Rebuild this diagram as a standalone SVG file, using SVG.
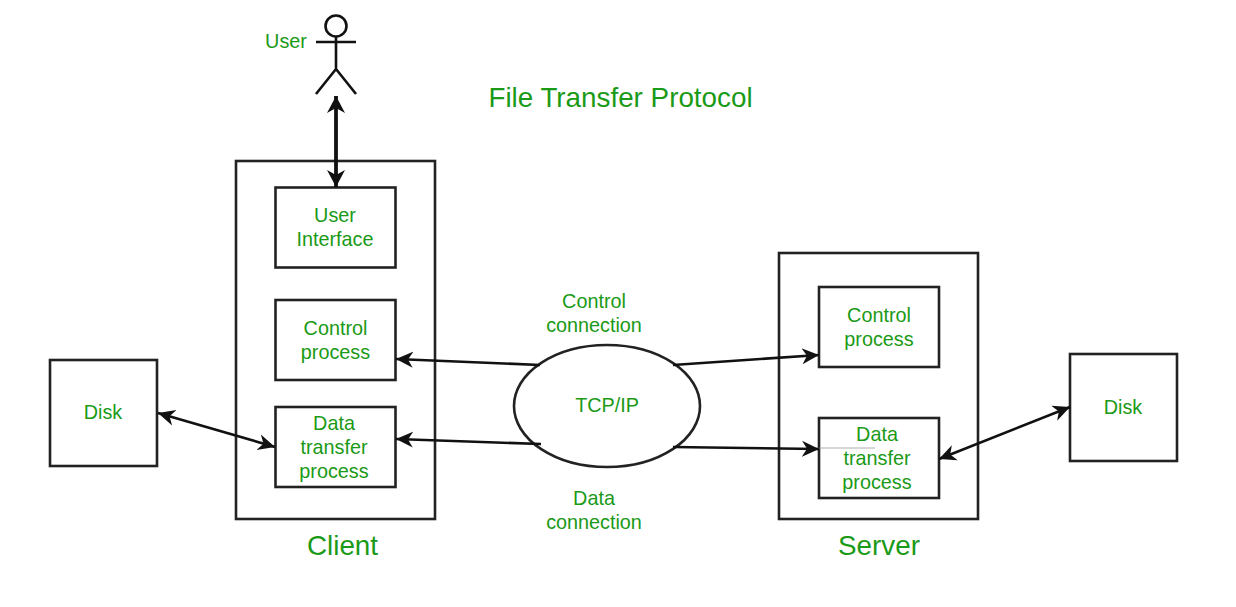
<svg xmlns="http://www.w3.org/2000/svg" width="1236" height="607" viewBox="0 0 1236 607">
<style>
text{font-family:"Liberation Sans",Arial,sans-serif;fill:#1a9a16;text-anchor:middle;font-size:19.8px}
.big{font-size:27.8px}
.box{fill:none;stroke:#222;stroke-width:2.6}
.c{fill:none;stroke:#111;stroke-width:2.6;marker-start:url(#as);marker-end:url(#ae)}
.o{fill:none;stroke:#111;stroke-width:2.6;marker-end:url(#ae)}
.a{fill:none;stroke:#111;stroke-width:2.6}
</style>
<defs>
<marker id="ae" markerUnits="userSpaceOnUse" markerWidth="20" markerHeight="18" refX="17" refY="9" orient="auto"><path d="M0 1 L17 9 L0 17 L5 9Z" fill="#111"/></marker>
<marker id="as" markerUnits="userSpaceOnUse" markerWidth="20" markerHeight="18" refX="3" refY="9" orient="auto"><path d="M20 1 L3 9 L20 17 L15 9Z" fill="#111"/></marker>
<marker id="be" markerUnits="userSpaceOnUse" markerWidth="20" markerHeight="20" refX="17" refY="10" orient="auto"><path d="M0 1 L17 10 L0 19 L5 10Z" fill="#111"/></marker>
<marker id="bs" markerUnits="userSpaceOnUse" markerWidth="20" markerHeight="20" refX="3" refY="10" orient="auto"><path d="M20 1 L3 10 L20 19 L15 10Z" fill="#111"/></marker>
</defs>
<rect width="1236" height="607" fill="#fff"/>
<text x="620.500" y="107" class="big">File Transfer Protocol</text>
<g id="user">
<circle cx="336" cy="26" r="10.500" class="a"/>
<path d="M336 37V69M316 42H356M336 69L316 94M336 69L356 94" class="a"/>
<text x="286" y="48">User</text>
</g>
<g id="client"><rect x="236" y="161" width="199" height="358" class="box"/><text x="342.500" y="555" class="big">Client</text></g>
<g id="user-interface"><rect x="275.500" y="187.500" width="120" height="80" class="box"/><text x="335" y="222">User</text><text x="335" y="246">Interface</text></g>
<g id="client-control"><rect x="275.500" y="300" width="120" height="80" class="box"/><text x="335.500" y="335">Control</text><text x="335.500" y="359">process</text></g>
<g id="client-data"><rect x="275.500" y="407" width="120" height="80" class="box"/><text x="334" y="430">Data</text><text x="334" y="454">transfer</text><text x="334" y="478">process</text></g>
<g id="client-disk"><rect x="50" y="360" width="107" height="106" class="box"/><text x="103" y="419">Disk</text></g>
<g id="server"><rect x="779" y="253" width="199" height="266" class="box"/><text x="879" y="555" class="big">Server</text></g>
<g id="server-control"><rect x="819" y="287" width="120" height="80" class="box"/><text x="879" y="322">Control</text><text x="879" y="346">process</text></g>
<g id="server-data"><rect x="819" y="418" width="120" height="80" class="box"/><text x="877" y="441">Data</text><text x="877" y="465">transfer</text><text x="877" y="489">process</text></g>
<g id="server-disk"><rect x="1070" y="354" width="107" height="107" class="box"/><text x="1123" y="414">Disk</text></g>
<g id="tcpip"><ellipse cx="607" cy="406" rx="93" ry="61" class="box"/><text x="607" y="412">TCP/IP</text></g>
<g id="connectors">
<path d="M336 96V187" fill="none" stroke="#111" stroke-width="3.800" marker-start="url(#bs)" marker-end="url(#be)"/>
<path d="M540 365L396 359" class="o"/>
<path d="M541 444L396 439" class="o"/>
<path d="M673 365L819 355" class="o"/>
<path d="M673 447L819 449" class="o"/>
<path d="M819 448H875" fill="none" stroke="#999" stroke-width="0.800"/>
<path d="M158 413L275 447" class="c"/>
<path d="M1070 407L939 459" class="c"/>
</g>
<g id="labels">
<text x="594" y="308">Control</text><text x="594" y="332">connection</text>
<text x="594" y="505">Data</text><text x="594" y="529">connection</text>
</g>
</svg>
